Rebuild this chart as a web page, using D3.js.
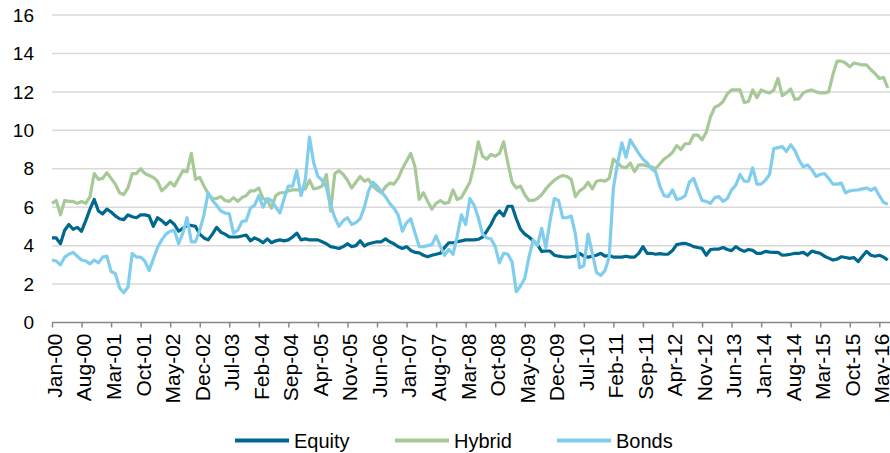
<!DOCTYPE html>
<html>
<head>
<meta charset="utf-8">
<script src="https://cdn.jsdelivr.net/npm/d3@7"></script>
<style>
  html, body { margin: 0; padding: 0; background: #fff; }
  svg { display: block; font-family: "Liberation Sans", Arial, sans-serif; }
</style>
</head>
<body>
<svg id="chart" width="890" height="453"></svg>
<script>
// ---- data ----
const categories = d3.timeMonth.range(new Date(2000, 0, 1), new Date(2016, 7, 1)).map(d3.timeFormat("%b-%y"));

const tickLabels = ["Jan-00","Aug-00","Mar-01","Oct-01","May-02","Dec-02","Jul-03","Feb-04","Sep-04","Apr-05",
  "Nov-05","Jun-06","Jan-07","Aug-07","Mar-08","Oct-08","May-09","Dec-09","Jul-10","Feb-11",
  "Sep-11","Apr-12","Nov-12","Jun-13","Jan-14","Aug-14","Mar-15","Oct-15","May-16"];

const yTicks = [0, 2, 4, 6, 8, 10, 12, 14, 16];

const seriesNames = ["Equity", "Hybrid", "Bonds"];
const seriesColors = ["#00688f", "#a7c998", "#80cdee"];

const equity = [
  4.4,4.4,4.1,4.8,5.1,4.85,4.95,4.75,5.3,5.9,6.4,5.8,5.65,5.9,5.75,5.55,5.4,5.35,5.6,5.5,
  5.45,5.6,5.6,5.55,5.0,5.45,5.3,5.1,5.3,5.1,4.75,4.9,5.05,5.05,5.0,4.6,4.4,4.3,4.6,4.95,
  4.7,4.6,4.45,4.45,4.45,4.5,4.55,4.25,4.4,4.3,4.15,4.35,4.15,4.25,4.3,4.25,4.3,4.45,4.65,4.3,
  4.35,4.3,4.3,4.3,4.2,4.1,3.95,3.9,3.85,3.95,4.1,3.95,4.0,4.25,3.98,4.1,4.15,4.2,4.2,4.35,
  4.2,4.1,3.95,3.85,3.95,3.75,3.65,3.62,3.5,3.42,3.5,3.55,3.6,3.9,4.15,4.15,4.2,4.25,4.3,4.3,
  4.3,4.33,4.45,4.75,5.1,5.55,5.8,5.55,6.05,6.05,5.4,4.85,4.6,4.45,4.25,4.05,3.7,3.72,3.72,3.5,
  3.45,3.42,3.4,3.42,3.45,3.6,3.45,3.4,3.45,3.5,3.6,3.45,3.5,3.4,3.4,3.4,3.45,3.4,3.4,3.6,
  3.95,3.6,3.6,3.55,3.58,3.55,3.56,3.75,4.05,4.1,4.12,4.05,3.95,3.9,3.86,3.5,3.8,3.82,3.82,3.9,
  3.8,3.74,3.95,3.8,3.7,3.8,3.75,3.6,3.6,3.7,3.66,3.65,3.65,3.5,3.52,3.55,3.6,3.6,3.65,3.5,
  3.72,3.65,3.6,3.45,3.35,3.25,3.3,3.42,3.38,3.34,3.38,3.17,3.45,3.7,3.5,3.45,3.5,3.4,3.25
];

const hybrid = [
  6.2,6.35,5.6,6.35,6.3,6.3,6.2,6.3,6.2,6.55,7.75,7.45,7.5,7.8,7.5,7.2,6.75,6.65,7.0,7.75,
  7.75,8.0,7.75,7.65,7.55,7.35,6.85,7.05,7.3,7.1,7.5,7.9,7.85,8.8,7.45,7.55,7.1,6.7,6.45,6.45,
  6.55,6.35,6.3,6.5,6.3,6.5,6.6,6.85,6.85,7.0,6.45,6.35,5.95,6.6,6.75,6.75,6.85,6.9,6.9,6.9,
  6.95,7.4,6.95,7.0,7.1,7.7,5.8,7.75,7.9,7.7,7.4,7.0,7.3,7.6,7.35,7.45,7.1,6.9,6.75,7.05,
  7.25,7.2,7.5,8.0,8.4,8.8,8.1,6.4,6.75,6.3,5.9,6.2,6.35,6.2,6.25,6.9,6.4,6.5,6.9,7.3,
  8.2,9.4,8.65,8.5,8.75,8.65,8.8,9.4,8.3,7.3,7.0,7.1,6.65,6.35,6.35,6.45,6.65,6.95,7.2,7.4,
  7.55,7.65,7.6,7.45,6.55,6.85,7.0,7.3,6.95,7.35,7.4,7.35,7.5,8.5,8.3,8.1,8.05,8.3,7.85,8.2,
  8.2,8.15,8.1,8.0,8.25,8.5,8.65,8.85,9.2,9.0,9.3,9.3,9.75,9.75,9.5,9.9,10.7,11.2,11.3,11.5,
  11.9,12.1,12.1,12.1,11.45,11.5,12.1,11.7,12.1,12.0,11.95,12.1,12.7,11.8,11.95,12.15,11.6,11.65,11.95,12.05,
  12.1,12.0,11.95,11.95,12.0,12.9,13.6,13.6,13.5,13.3,13.5,13.45,13.4,13.4,13.15,12.95,12.7,12.75,12.2
];

const bonds = [
  3.25,3.2,3.0,3.4,3.55,3.65,3.45,3.25,3.2,3.05,3.25,3.1,3.4,3.45,2.65,2.55,1.8,1.55,1.85,3.6,
  3.4,3.4,3.2,2.7,3.3,3.9,4.3,4.6,4.75,4.8,4.1,4.65,5.45,4.2,4.2,4.8,5.6,6.75,6.35,6.1,
  5.8,5.7,5.65,4.65,4.8,5.25,5.3,5.95,6.1,6.6,6.0,6.45,6.35,6.0,5.7,6.45,7.1,7.1,7.9,6.6,
  7.4,9.65,8.3,7.6,7.4,7.05,6.1,5.45,5.0,5.3,5.45,5.1,5.2,5.4,6.0,6.85,7.3,7.1,6.8,6.55,
  6.2,5.95,5.6,4.75,5.2,5.4,4.65,3.95,3.95,4.0,4.05,4.5,3.95,3.5,3.8,3.55,4.5,5.6,5.1,6.45,
  6.1,5.45,4.6,4.4,4.35,3.95,3.1,3.6,3.55,3.15,1.6,1.9,2.3,3.4,4.3,4.0,4.9,3.9,5.3,6.45,
  6.35,5.45,5.45,5.55,4.6,2.85,2.95,4.6,3.6,2.6,2.45,2.7,3.4,7.0,8.3,9.35,8.6,9.5,9.15,8.8,
  8.5,8.3,8.0,7.85,7.1,6.6,6.55,6.9,6.4,6.45,6.6,7.3,7.5,6.9,6.35,6.3,6.2,6.5,6.55,6.3,
  6.45,6.9,7.15,7.7,7.35,7.35,8.05,7.2,7.2,7.4,7.7,9.05,9.1,9.15,8.9,9.25,8.95,8.45,8.1,8.2,
  7.95,7.6,7.7,7.75,7.5,7.2,7.2,7.25,6.75,6.85,6.88,6.9,6.95,7.0,6.88,7.0,6.6,6.25,6.15
];

const seriesValues = [equity, hybrid, bonds];

// ---- layout ----
const svg = d3.select("#chart");
const x0 = 52, monthW = 4.221;
const x = d3.scalePoint()
  .domain(categories)
  .range([x0, x0 + (categories.length - 1) * monthW])
  .padding(0);
const y = d3.scaleLinear().domain([0, 16]).range([322.5, 15]);
const plotRight = 890;

// gridlines
svg.append("g")
  .selectAll("line")
  .data(yTicks.filter(d => d > 0))
  .join("line")
  .attr("x1", x0).attr("x2", plotRight)
  .attr("y1", d => y(d)).attr("y2", d => y(d))
  .attr("stroke", "#d9d9d9").attr("stroke-width", 1.5);

// y labels
svg.append("g")
  .selectAll("text")
  .data(yTicks)
  .join("text")
  .attr("x", 34)
  .attr("y", d => y(d))
  .attr("dy", "0.35em")
  .attr("text-anchor", "end")
  .attr("font-size", 19)
  .attr("fill", "#000")
  .text(d => d);

// x axis
const xAxis = d3.axisBottom(x)
  .tickValues(tickLabels)
  .tickSize(5)
  .tickSizeOuter(0);
const gx = svg.append("g")
  .attr("transform", `translate(0,${y(0)})`)
  .call(xAxis);
gx.select(".domain").attr("stroke", "#888").attr("stroke-width", 1.5)
  .attr("d", `M${x0},0H${plotRight}`);
gx.selectAll(".tick line").attr("stroke", "#888").attr("stroke-width", 1.5);
gx.selectAll(".tick text")
  .attr("font-size", 21)
  .attr("font-family", "'Liberation Sans', Arial, sans-serif")
  .attr("fill", "#000")
  .attr("text-anchor", "end")
  .attr("transform", "rotate(-90)")
  .attr("x", -11)
  .attr("y", 2)
  .attr("dy", "0.35em");

// lines
const line = d3.line()
  .x((d, i) => x(categories[i]))
  .y(d => y(d));

svg.append("g")
  .selectAll("path")
  .data(seriesValues)
  .join("path")
  .attr("d", d => line(d))
  .attr("fill", "none")
  .attr("stroke", (d, i) => seriesColors[i])
  .attr("stroke-width", 3.2)
  .attr("stroke-linejoin", "round");

// legend
const legendX = [235, 395, 557];
const legendY = 440.5;
const lg = svg.append("g");
seriesNames.forEach((name, i) => {
  lg.append("line")
    .attr("x1", legendX[i]).attr("x2", legendX[i] + 54)
    .attr("y1", legendY).attr("y2", legendY)
    .attr("stroke", seriesColors[i]).attr("stroke-width", 4);
  lg.append("text")
    .attr("x", legendX[i] + 59)
    .attr("y", legendY)
    .attr("dy", "0.35em")
    .attr("font-size", 20)
    .attr("fill", "#000")
    .text(name);
});
</script>
</body>
</html>
